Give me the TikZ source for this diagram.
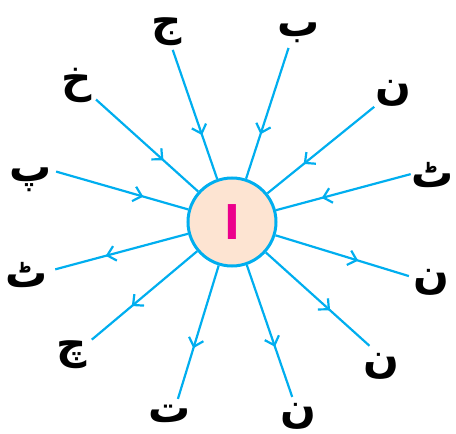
\documentclass[tikz,border=0pt]{standalone}
\usepackage{fontspec}
\newfontfamily\arabicfont[Script=Arabic]{DejaVu Sans}
\TeXXeTstate=1
\usetikzlibrary{arrows.meta,decorations.markings}
\definecolor{spokecyan}{RGB}{0,174,239}
\definecolor{hubpeach}{RGB}{253,228,210}
\definecolor{alefpink}{RGB}{236,0,140}
\tikzset{
  spoke/.style={draw=spokecyan, line width=2.2pt},
  midarrow/.style={postaction={decorate}, decoration={markings,
      mark=at position #1 with {\arrow{Straight Barb[length=8pt,width=15pt,line width=2.2pt]}}}},
  letter/.style={font=\arabicfont\bfseries\fontsize{42}{48}\selectfont, inner sep=0pt, yshift=-5pt},
  hub/.style={circle, draw=spokecyan, line width=3pt, fill=hubpeach, minimum size=88pt, inner sep=0pt}
}
\begin{document}
\begin{tikzpicture}[x=1pt,y=1pt]
  \useasboundingbox (-232,-212) rectangle (224,222);
  \node[hub] (hub) at (0,0) {};
  \node[font=\arabicfont\bfseries\fontsize{46}{52}\selectfont, text=alefpink] (alef) at (hub) {\beginR ا\endR};
  % spokes pointing in
  \foreach \i/\ang/\r in {1/109/182, 2/72/183, 3/39/183, 4/15/185, 11/164/183, 12/138/183}{
    \coordinate (o\i) at (\ang:\r);
    \draw[spoke, midarrow=0.66] (o\i) -- (hub);
  }
  % spokes pointing out
  \foreach \i/\ang/\r in {5/-17/185, 6/-42/185, 7/-71/185, 8/-107/185, 9/-140/183, 10/-165/183}{
    \coordinate (o\i) at (\ang:\r);
    \draw[spoke, midarrow=0.62] (hub) -- (o\i);
  }
  % letters
  \foreach \i/\x/\y/\ltr in {1/-65/195/ج, 2/67/194/ب, 3/161/134/ن, 4/201/52/ٹ, 5/199/-55/ن, 6/149/-139/ن,
      7/66/-189/ن, 8/-62/-187/ت, 9/-160/-128/چ, 10/-205/-48/ٹ, 11/-201/47/پ, 12/-155/142/خ}{
    \node[letter] (l\i) at (\x,\y) {\beginR\ltr\endR};
  }
\end{tikzpicture}
\end{document}
